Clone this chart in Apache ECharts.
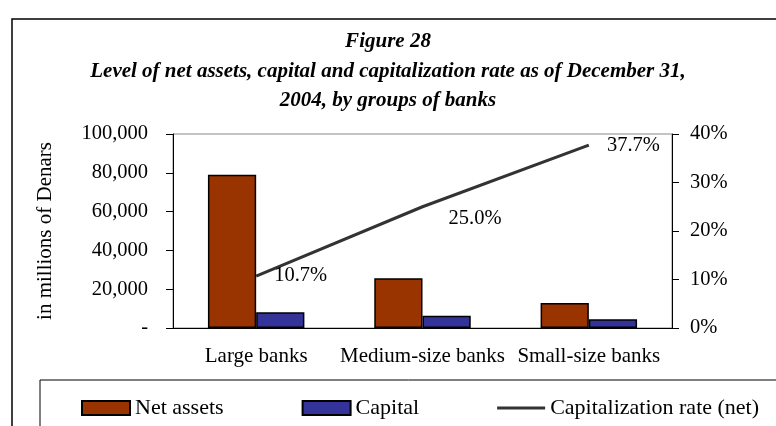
<!DOCTYPE html>
<html>
<head>
<meta charset="utf-8">
<script src="https://cdn.jsdelivr.net/npm/echarts@6/dist/echarts.min.js"></script>
<style>
html, body { margin: 0; padding: 0; background: #fff; }
#main { width: 776px; height: 426px; }
</style>
</head>
<body>
<div id="main"></div>
<script>
// bank groups
var categories = ['Large banks', 'Medium-size banks', 'Small-size banks'];
// millions of Denars
var netAssets = [79000, 25600, 12900];
var capital = [8100, 6300, 4500];
// capitalization rate, %
var capRate = [10.7, 25.0, 37.7];

var serif = 'Liberation Serif';

var chart = echarts.init(document.getElementById('main'));
chart.setOption({
  backgroundColor: '#fff',
  textStyle: { fontFamily: serif, color: '#000' },
  title: {
    text: 'Figure 28\nLevel of net assets, capital and capitalization rate as of December 31,\n2004, by groups of banks',
    left: 'center',
    top: 22,
    textStyle: { fontFamily: serif, fontSize: 21, fontWeight: 'bold', fontStyle: 'italic', lineHeight: 29.5, color: '#000' }
  },
  graphic: [
    // outer frame
    { type: 'rect', shape: { x: 12, y: 19, width: 800, height: 450 }, style: { fill: 'none', stroke: '#000', lineWidth: 1.5 }, z: -1 },
    // legend box
    { type: 'rect', shape: { x: 40, y: 380, width: 800, height: 100 }, style: { fill: 'none', stroke: '#000', lineWidth: 1 }, z: -1 }
  ],
  legend: {
    left: 81,
    top: 397,
    padding: 0,
    itemWidth: 48,
    itemHeight: 14,
    itemGap: 78,
    textStyle: { fontFamily: serif, fontSize: 22, color: '#000' },
    data: [
      { name: 'Net assets', icon: 'rect' },
      { name: 'Capital', icon: 'rect' },
      { name: 'Capitalization rate (net)', icon: 'path://M0,0L48,0L48,3L0,3Z', itemStyle: { color: '#333', borderWidth: 0 } }
    ]
  },
  grid: {
    left: 173, right: 104, top: 134, bottom: 98,
    show: true, borderColor: '#888', borderWidth: 1
  },
  xAxis: {
    type: 'category',
    data: categories,
    axisLine: { lineStyle: { color: '#000', width: 1 } },
    axisTick: { length: 7, lineStyle: { color: '#000' } },
    axisLabel: { fontFamily: serif, fontSize: 21, color: '#000', margin: 18, interval: 0 }
  },
  yAxis: [
    {
      type: 'value',
      min: 0, max: 100000, interval: 20000,
      name: 'in millions of Denars',
      nameLocation: 'middle',
      nameGap: 117,
      nameTextStyle: { fontFamily: serif, fontSize: 21, color: '#000' },
      axisLine: { show: true, lineStyle: { color: '#000' } },
      axisTick: { show: true, length: 7, lineStyle: { color: '#000' } },
      splitLine: { show: false },
      axisLabel: {
        fontFamily: serif, fontSize: 20.5, color: '#000', margin: 25,
        formatter: function (v) { return v === 0 ? '-' : v.toLocaleString('en-US'); }
      }
    },
    {
      type: 'value',
      min: 0, max: 40, interval: 10,
      position: 'right',
      axisLine: { show: true, lineStyle: { color: '#000' } },
      axisTick: { show: true, length: 7, lineStyle: { color: '#000' } },
      splitLine: { show: false },
      axisLabel: { fontFamily: serif, fontSize: 20.5, color: '#000', margin: 18, formatter: '{value}%' }
    }
  ],
  series: [
    {
      name: 'Net assets',
      type: 'bar',
      data: netAssets,
      barGap: '0%',
      barCategoryGap: '42%',
      itemStyle: { color: '#993300', borderColor: '#000', borderWidth: 1.5 }
    },
    {
      name: 'Capital',
      type: 'bar',
      data: capital,
      itemStyle: { color: '#333399', borderColor: '#000', borderWidth: 1.5 }
    },
    {
      name: 'Capitalization rate (net)',
      type: 'line',
      yAxisIndex: 1,
      data: capRate,
      symbol: 'circle',
      symbolSize: 0.1,
      showSymbol: true,
      lineStyle: { color: '#333', width: 3 },
      itemStyle: { color: '#333' },
      label: {
        show: true,
        position: 'right',
        distance: 18,
        fontFamily: serif, fontSize: 20.5, color: '#000',
        formatter: function (p) { return p.value.toFixed(1) + '%'; }
      },
      labelLayout: function (p) {
        if (p.dataIndex === 1) return { dx: 8, dy: 12 };
        return {};
      }
    }
  ]
});
</script>
</body>
</html>
